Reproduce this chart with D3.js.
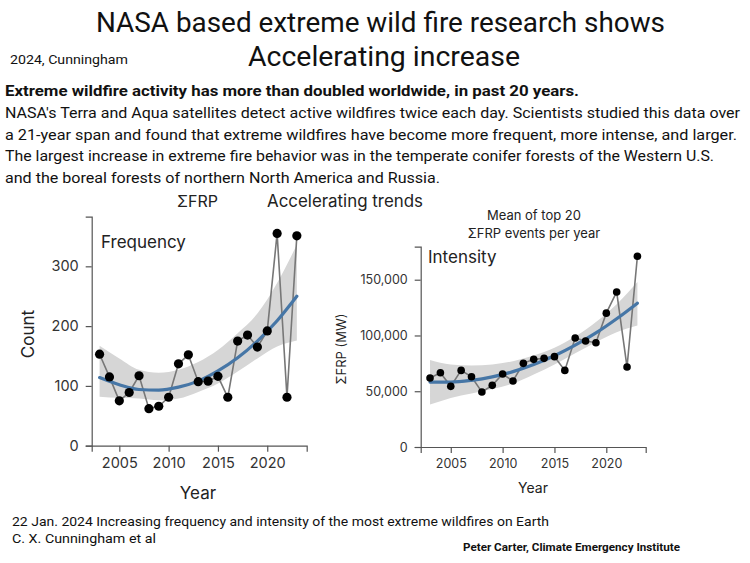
<!DOCTYPE html>
<html>
<head>
<meta charset="utf-8">
<script src="https://cdn.jsdelivr.net/npm/d3@7"></script>
<style>
  body { margin: 0; background: #fff; }
  svg { display: block; }
  .txt { font-family: "Liberation Sans Narrow", "Roboto", sans-serif; fill: #111; }
  .chart { font-family: "Inter", "Lato", sans-serif; fill: #222; }
  .axis path, .axis line { stroke: #555; stroke-width: 1.2; }
  .axis text { font-family: "Inter", "Lato", sans-serif; fill: #333; }
</style>
</head>
<body>
<div id="chart"></div>
<script>
// years shared by both panels
const years = [2003, 2004, 2005, 2006, 2007, 2008, 2009, 2010, 2011, 2012, 2013,
  2014, 2015, 2016, 2017, 2018, 2019, 2020, 2021, 2022, 2023];

// Frequency (count of extreme events)
const freqCount = [153, 115, 75, 89, 117, 62, 66, 81, 137, 152, 107,
  108, 116, 81, 175, 185, 165, 192, 355, 81, 351];

// Intensity (mean of top 20 ΣFRP, MW)
const intensity = [61900, 66600, 54400, 68700, 63000, 49300, 55300, 65400, 59200, 75000, 78600,
  79500, 81000, 68700, 97700, 95000, 93500, 120000, 139000, 71700, 171000];

// fitted trend + confidence band, read at odd years
const fitYears = [2003, 2005, 2007, 2009, 2011, 2013, 2015, 2017, 2019, 2021, 2023];
const freqFit = [114, 102, 94, 93, 98, 108, 125, 147, 175, 209, 250];
const freqUpper = [167, 146, 127, 122, 127, 140, 160, 188, 221, 272, 336];
const freqLower = [82, 80, 79, 76, 79, 90, 104, 124, 146, 166, 176];
const intFit = [58200, 58200, 59800, 62900, 67600, 74000, 81800, 91300, 102300, 115000, 129000];
const intUpper = [78000, 74000, 73000, 74000, 77000, 82000, 89000, 99000, 112000, 128000, 148000];
const intLower = [38000, 44000, 48000, 52000, 57000, 65000, 74000, 84000, 94000, 103000, 109000];

const xTicks = [2005, 2010, 2015, 2020];
const freqTicks = [0, 100, 200, 300];
const intTicks = [0, 50000, 100000, 150000];

const paragraph = [
  "NASA's Terra and Aqua satellites detect active wildfires twice each day. Scientists studied this data over",
  "a 21-year span and found that extreme wildfires have become more frequent, more intense, and larger.",
  "The largest increase in extreme fire behavior was in the temperate conifer forests of the Western U.S.",
  "and the boreal forests of northern North America and Russia."
];
const paraWidths = [735, 732, 709, 435];

const w = 750;
const h = 563;

const svg = d3.select("#chart").append("svg").attr("width", w).attr("height", h);

// header text
function addText(x, y, str, size, opts) {
  opts = opts || {};
  const t = svg.append("text")
    .attr("class", opts.cls || "txt")
    .attr("x", x)
    .attr("y", y)
    .attr("font-size", size)
    .attr("text-anchor", opts.anchor || "start")
    .attr("font-weight", opts.weight || "normal")
    .text(str);
  if (opts.len) t.attr("textLength", opts.len).attr("lengthAdjust", "spacingAndGlyphs");
  return t;
}

addText(96, 32, "NASA based extreme wild fire research shows", 27, { len: 569 });
addText(248, 66, "Accelerating increase", 27, { len: 272 });
addText(10, 64, "2024, Cunningham", 12.5, { len: 118 });
addText(5, 96, "Extreme wildfire activity has more than doubled worldwide, in past 20 years.", 15.5, { weight: "bold", len: 574 });
paragraph.forEach((line, i) => {
  addText(5, 118 + i * 21.7, line, 15.5, { len: paraWidths[i] });
});

addText(12, 526, "22 Jan. 2024 Increasing frequency and intensity of the most extreme wildfires on Earth", 13, { len: 537 });
addText(12, 543, "C. X. Cunningham et al", 13, { len: 144 });
addText(463, 551, "Peter Carter, Climate Emergency Institute", 10, { weight: "bold", len: 217 });

addText(177, 207, "ΣFRP", 16, { cls: "chart" });
addText(267, 207, "Accelerating trends", 17, { cls: "chart", len: 156 });
addText(534, 220, "Mean of top 20", 13, { cls: "chart", anchor: "middle" });
addText(534, 238, "ΣFRP events per year", 13, { cls: "chart", anchor: "middle" });

function panel(cfg) {
  const x = d3.scaleLinear().domain(cfg.xDomain).range(cfg.xRange);
  const y = d3.scaleLinear().domain(cfg.yDomain).range(cfg.yRange);
  const g = svg.append("g");

  // confidence band
  const band = d3.area()
    .x((d, i) => x(fitYears[i]))
    .y0((d, i) => y(cfg.lower[i]))
    .y1((d) => y(d))
    .curve(d3.curveMonotoneX);
  g.append("path").datum(cfg.upper).attr("d", band).attr("fill", "#d6d6d6");

  // connecting line
  const line = d3.line().x((d, i) => x(years[i])).y((d) => y(d));
  g.append("path").datum(cfg.values).attr("d", line)
    .attr("fill", "none").attr("stroke", "#777").attr("stroke-width", 1.6);

  // fitted trend
  const fit = d3.line().x((d, i) => x(fitYears[i])).y((d) => y(d)).curve(d3.curveMonotoneX);
  g.append("path").datum(cfg.fit).attr("d", fit)
    .attr("fill", "none").attr("stroke", "#4676a6").attr("stroke-width", 3.2)
    .attr("stroke-linecap", "round");

  g.selectAll("circle")
    .data(cfg.values)
    .enter()
    .append("circle")
    .attr("cx", (d, i) => x(years[i]))
    .attr("cy", (d) => y(d))
    .attr("r", cfg.r)
    .attr("fill", "#000");

  // axes
  const xAxis = d3.axisBottom(x).tickValues(xTicks).tickFormat(d3.format("d"))
    .tickSizeOuter(0).tickSize(6).tickPadding(cfg.xPad);
  g.append("g").attr("class", "axis")
    .attr("transform", "translate(0," + cfg.yRange[0] + ")")
    .call(xAxis)
    .selectAll("text").attr("font-size", cfg.tickFont);

  const yAxis = d3.axisLeft(y).tickValues(cfg.yTicks).tickFormat(cfg.yFormat)
    .tickSizeOuter(0).tickSize(6).tickPadding(cfg.yPad);
  g.append("g").attr("class", "axis")
    .attr("transform", "translate(" + cfg.xRange[0] + ",0)")
    .call(yAxis)
    .selectAll("text").attr("font-size", cfg.tickFont);

  g.selectAll(".axis .domain").attr("stroke", "#555");

  addText(cfg.labelX, cfg.labelY, cfg.label, 17, { cls: "chart" });
  addText(cfg.yearX, cfg.yearY, "Year", cfg.titleFont, { cls: "chart", anchor: "middle" });
  svg.append("text")
    .attr("class", "chart")
    .attr("transform", "translate(" + cfg.yTitleX + "," + cfg.yTitleY + ")rotate(-90)")
    .attr("text-anchor", "middle")
    .attr("font-size", cfg.yTitleFont)
    .text(cfg.yTitle);
}

panel({
  xDomain: [2002.2, 2024], xRange: [91.7, 306.7],
  yDomain: [0, 383], yRange: [445.7, 216.7],
  values: freqCount, fit: freqFit, upper: freqUpper, lower: freqLower,
  yTicks: freqTicks, yFormat: d3.format("d"),
  r: 4.6, tickFont: 14.5, xPad: 6, yPad: 7,
  label: "Frequency", labelX: 101, labelY: 248,
  yearX: 198, yearY: 499, titleFont: 17,
  yTitle: "Count", yTitleX: 34, yTitleY: 334, yTitleFont: 17
});

panel({
  xDomain: [2002.1, 2023.8], xRange: [420.7, 645.7],
  yDomain: [0, 179600], yRange: [447, 246.7],
  values: intensity, fit: intFit, upper: intUpper, lower: intLower,
  yTicks: intTicks, yFormat: d3.format(","),
  r: 3.8, tickFont: 12.5, xPad: 6, yPad: 7,
  label: "Intensity", labelX: 428, labelY: 263,
  yearX: 533, yearY: 493, titleFont: 14,
  yTitle: "ΣFRP (MW)", yTitleX: 346, yTitleY: 349, yTitleFont: 13
});
</script>
</body>
</html>
